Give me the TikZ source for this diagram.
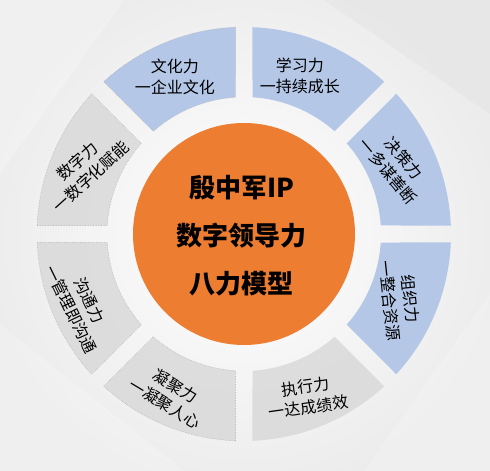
\documentclass[tikz,border=0pt]{standalone}
\usepackage{fontspec}
\usepackage{xcolor}
\usepackage{tikz}
\usetikzlibrary{calc}
\newfontfamily\cjk{Noto Sans CJK SC}
\definecolor{bgGray}{HTML}{ECECEC}
\definecolor{segBlue}{HTML}{B4C7E7}
\definecolor{segGray}{HTML}{D9D9D9}
\definecolor{coreOrange}{HTML}{ED7D31}

\begin{document}
\begin{tikzpicture}[x=1pt, y=1pt,
    bluepart/.style={fill=segBlue},
    graypart/.style={fill=segGray, fill opacity=0.85},
    dotrim/.style={draw=gray!55, densely dotted, line width=0.6pt},
    label/.style={font=\cjk\fontsize{16}{20.5}\selectfont, align=center, inner sep=0pt},
    core/.style={font=\cjk\bfseries\fontsize{26}{48}\selectfont, align=center, inner sep=0pt}]
    % background
    \fill[bgGray] (-244,-237) rectangle (246,234);
    \useasboundingbox (-244,-237) rectangle (246,234);
    \shade[inner color=white, outer color=bgGray] (0,0) circle (260);
    \fill[white, opacity=0.25] (-244,234) -- (-120,234) -- (-244,60) -- cycle;
    \fill[white, opacity=0.2] (246,-237) -- (120,-237) -- (246,-60) -- cycle;
    \fill[white, opacity=0.2] (-244,-237) -- (-60,-237) -- (-244,-90) -- cycle;
    \fill[black, opacity=0.02] (246,234) -- (80,234) -- (246,120) -- cycle;

    \coordinate (O) at (0,0);

    % ring parts, 45 degrees each
    \foreach \a/\kind in {90/bluepart, 45/bluepart, 0/bluepart, -45/bluepart,
                          -90/graypart, -135/graypart, 180/graypart, 135/graypart} {
        \fill[\kind] (\a+2.35:207) arc[start angle=\a+2.35, end angle=\a+42.65, radius=207]
            -- (\a+41.44:137) arc[start angle=\a+41.44, end angle=\a+3.56, radius=137] -- cycle;
    }
    \foreach \a in {90, -135, 180, 135} {
        \draw[dotrim] (\a+2.35:207) arc[start angle=\a+2.35, end angle=\a+42.65, radius=207]
            -- (\a+41.44:137) arc[start angle=\a+41.44, end angle=\a+3.56, radius=137] -- cycle;
    }

    % centre
    \fill[coreOrange] (O) circle (111);
    \node[core] (title) at (-2,-2) {殷中军IP\\数字领导力\\八力模型};

    % labels
    \node[label] (culture) at (-69,157) {文化力\\一企业文化};
    \node[label] (learn) at (56,158) {学习力\\一持续成长};
    \node[label, rotate=-50] (decide) at (152,69) {决策力\\一多谋善断};
    \node[label, rotate=-84] (organize) at (156,-66) {组织力\\一整合资源};
    \node[label, rotate=8] (execute) at (63,-163) {执行力\\一达成绩效};
    \node[label, rotate=-31] (unite) at (-74,-161) {凝聚力\\一凝聚人心};
    \node[label, rotate=-64] (talk) at (-164,-71) {沟通力\\一管理即沟通};
    \node[label, rotate=42] (digital) at (-160,65) {数字力\\一数字化赋能};
\end{tikzpicture}
\end{document}
